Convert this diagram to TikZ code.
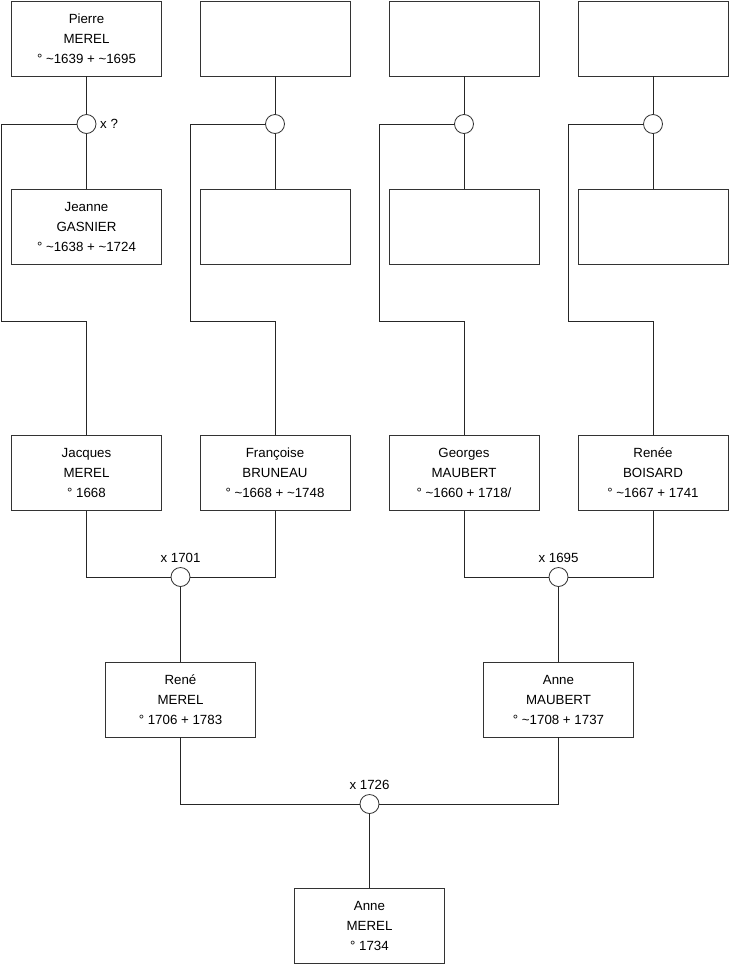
\documentclass[tikz,border=0pt]{standalone}
\usepackage{fontspec}
\setmainfont{Liberation Sans}
\begin{document}
\begin{tikzpicture}[x=1pt,y=-1pt,
  person/.style={draw=black!80, line width=0.8pt, fill=white, minimum width=150pt, minimum height=75pt, inner sep=0pt, align=center, font=\fontsize{13.3}{20}\selectfont},
  union/.style={draw=black!80, line width=0.8pt, fill=white, circle, minimum size=19pt, inner sep=0pt},
  link/.style={draw=black!85, line width=0.8pt},
  lbl/.style={font=\fontsize{13.3}{15}\selectfont, inner sep=0pt}]
\useasboundingbox (0,0) rectangle (740,975);
% row 1
\node[person] (p1) at (86.5,38.5) {Pierre\\MEREL\\° \textasciitilde1639 + \textasciitilde1695};
\node[person] (p2) at (275,38.5) {};
\node[person] (p3) at (464,38.5) {};
\node[person] (p4) at (653,38.5) {};
% unions row 1
\node[union] (u1) at (86.5,124) {};
\node[union] (u2) at (275,124) {};
\node[union] (u3) at (464,124) {};
\node[union] (u4) at (653,124) {};
% row 2
\node[person] (q1) at (86.5,227) {Jeanne\\GASNIER\\° \textasciitilde1638 + \textasciitilde1724};
\node[person] (q2) at (275,227) {};
\node[person] (q3) at (464,227) {};
\node[person] (q4) at (653,227) {};
% row 3
\node[person] (r1) at (86.5,473) {Jacques\\MEREL\\° 1668};
\node[person] (r2) at (275,473) {Françoise\\BRUNEAU\\° \textasciitilde1668 + \textasciitilde1748};
\node[person] (r3) at (464,473) {Georges\\MAUBERT\\° \textasciitilde1660 + 1718/};
\node[person] (r4) at (653,473) {Renée\\BOISARD\\° \textasciitilde1667 + 1741};
% unions row 3
\node[union] (v1) at (180.5,577) {};
\node[union] (v2) at (558.5,577) {};
% row 4
\node[person] (s1) at (180.5,699.5) {René\\MEREL\\° 1706 + 1783};
\node[person] (s2) at (558.5,699.5) {Anne\\MAUBERT\\° \textasciitilde1708 + 1737};
% union row 4
\node[union] (w1) at (369.5,804) {};
% row 5
\node[person] (t1) at (369.5,925.5) {Anne\\MEREL\\° 1734};
% labels
\node[lbl, anchor=west] (l1) at (100,124) {x ?};
\node[lbl] (l2) at (180.5,558) {x 1701};
\node[lbl] (l3) at (558.5,558) {x 1695};
\node[lbl] (l4) at (369.5,785) {x 1726};
% coordinates for elbows
\coordinate (a1) at (1,124);   \coordinate (b1) at (1,321);   \coordinate (c1) at (86.5,321);
\coordinate (a2) at (190,124); \coordinate (b2) at (190,321); \coordinate (c2) at (275,321);
\coordinate (a3) at (379,124); \coordinate (b3) at (379,321); \coordinate (c3) at (464,321);
\coordinate (a4) at (568,124); \coordinate (b4) at (568,321); \coordinate (c4) at (653,321);
% row 1 connections
\foreach \i in {1,2,3,4}{
  \draw[link] (p\i.south) -- (u\i.north);
  \draw[link] (u\i.south) -- (q\i.north);
  \draw[link] (u\i.west) -- (a\i) -- (b\i) -- (c\i) -- (r\i.north);
}
% row 3 connections
\draw[link] (r1.south) |- (v1.west);
\draw[link] (r2.south) |- (v1.east);
\draw[link] (v1.south) -- (s1.north);
\draw[link] (r3.south) |- (v2.west);
\draw[link] (r4.south) |- (v2.east);
\draw[link] (v2.south) -- (s2.north);
% row 4 connections
\draw[link] (s1.south) |- (w1.west);
\draw[link] (s2.south) |- (w1.east);
\draw[link] (w1.south) -- (t1.north);
\end{tikzpicture}
\end{document}
